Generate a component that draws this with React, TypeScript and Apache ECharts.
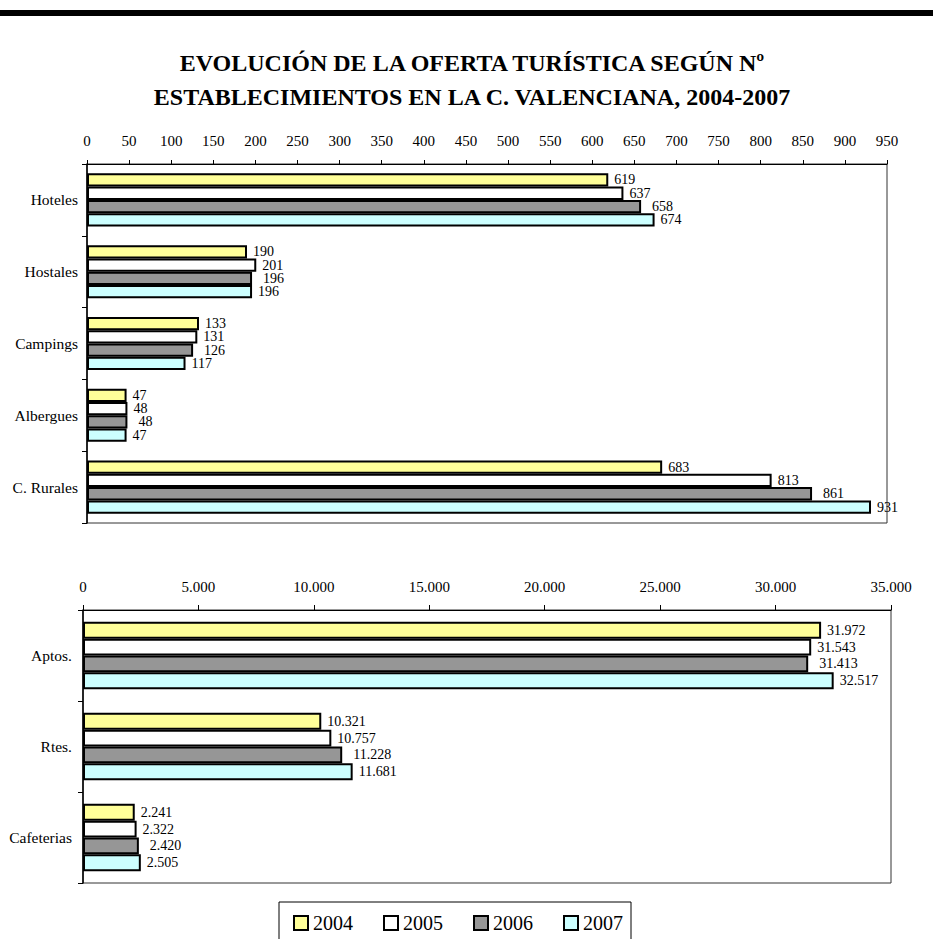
import React, { useEffect, useRef } from "react";
import * as echarts from "echarts";

const titleLines = [
  "EVOLUCIÓN DE LA OFERTA TURÍSTICA SEGÚN Nº",
  "ESTABLECIMIENTOS EN LA C. VALENCIANA, 2004-2007",
];
const years = ["2004", "2005", "2006", "2007"];
const yearColors = ["#FFFF99", "#FFFFFF", "#969696", "#CCFFFF"];

const topCategories = ["Hoteles", "Hostales", "Campings", "Albergues", "C. Rurales"];
const top2004 = [619, 190, 133, 47, 683];
const top2005 = [637, 201, 131, 48, 813];
const top2006 = [658, 196, 126, 48, 861];
const top2007 = [674, 196, 117, 47, 931];

const bottomCategories = ["Aptos.", "Rtes.", "Cafeterias"];
const bottom2004 = [31972, 10321, 2241];
const bottom2005 = [31543, 10757, 2322];
const bottom2006 = [31413, 11228, 2420];
const bottom2007 = [32517, 11681, 2505];

const topSeries = [top2004, top2005, top2006, top2007];
const bottomSeries = [bottom2004, bottom2005, bottom2006, bottom2007];

const FONT = "Liberation Serif";

const fmt = (v: number) =>
  String(Math.round(v)).replace(/\B(?=(\d{3})+(?!\d))/g, ".");

export default function App() {
  const ref = useRef<HTMLDivElement>(null);

  useEffect(() => {
    if (!ref.current) return;
    const chart = echarts.init(ref.current, null, { renderer: "svg" });

    const axisLabel = { color: "#000", fontFamily: FONT, fontSize: 15 };

    const makeSeries = (data: number[][], idx: number) =>
      data.map((vals, i) => ({
        name: years[i],
        type: "bar",
        xAxisIndex: idx,
        yAxisIndex: idx,
        data: vals,
        barGap: "0%",
        barCategoryGap: "26%",
        itemStyle: {
          color: yearColors[i],
          borderColor: "#000",
          borderWidth: 2,
        },
        label: {
          show: true,
          position: "right",
          distance: i === 2 ? 11 : 6,
          color: "#000",
          fontFamily: FONT,
          fontSize: 14,
          formatter: (p: any) => fmt(p.value),
        },
      }));

    const option: any = {
      animation: false,
      backgroundColor: "#fff",
      textStyle: { fontFamily: FONT },
      graphic: [
        {
          type: "rect",
          shape: { x: 0, y: 10, width: 933, height: 6 },
          style: { fill: "#000" },
        },
        {
          type: "text",
          x: 472,
          y: 80,
          style: {
            text: titleLines.join("\n"),
            fill: "#000",
            fontFamily: FONT,
            fontWeight: "bold",
            fontSize: 24,
            lineHeight: 34,
            textAlign: "center",
            textVerticalAlign: "middle",
          },
        },
      ],
      legend: {
        data: years,
        left: 279,
        top: 902,
        orient: "horizontal",
        icon: "rect",
        itemWidth: 14,
        itemHeight: 14,
        itemGap: 30,
        padding: [11, 8, 20, 14],
        borderColor: "#000",
        borderWidth: 1,
        textStyle: { color: "#000", fontFamily: FONT, fontSize: 20 },
      },
      grid: [
        {
          left: 87,
          top: 164,
          width: 800,
          height: 359,
          show: true,
          borderColor: "#333",
          borderWidth: 1,
        },
        {
          left: 83,
          top: 610,
          width: 808,
          height: 273,
          show: true,
          borderColor: "#333",
          borderWidth: 1,
        },
      ],
      xAxis: [
        {
          type: "value",
          gridIndex: 0,
          position: "top",
          min: 0,
          max: 950,
          interval: 50,
          axisLine: { show: true, lineStyle: { color: "#000", width: 1 } },
          axisTick: { show: true, length: 4, lineStyle: { color: "#000" } },
          axisLabel: { ...axisLabel, margin: 16, formatter: (v: number) => fmt(v) },
          splitLine: { show: false },
        },
        {
          type: "value",
          gridIndex: 1,
          position: "top",
          min: 0,
          max: 35000,
          interval: 5000,
          axisLine: { show: true, lineStyle: { color: "#000", width: 1 } },
          axisTick: { show: true, length: 5, lineStyle: { color: "#000" } },
          axisLabel: { ...axisLabel, margin: 16, formatter: (v: number) => fmt(v) },
          splitLine: { show: false },
        },
      ],
      yAxis: [
        {
          type: "category",
          gridIndex: 0,
          data: topCategories,
          inverse: true,
          axisLine: { show: true, lineStyle: { color: "#000", width: 1.5 } },
          axisTick: { show: true, length: 5, lineStyle: { color: "#000" } },
          axisLabel: { ...axisLabel, fontSize: 15.5, margin: 9 },
        },
        {
          type: "category",
          gridIndex: 1,
          data: bottomCategories,
          inverse: true,
          axisLine: { show: true, lineStyle: { color: "#000", width: 1.5 } },
          axisTick: { show: true, length: 5, lineStyle: { color: "#000" } },
          axisLabel: { ...axisLabel, fontSize: 15.5, margin: 11 },
        },
      ],
      series: [...makeSeries(topSeries, 0), ...makeSeries(bottomSeries, 1)],
    };

    chart.setOption(option);
    return () => chart.dispose();
  }, []);

  return (
    <div
      ref={ref}
      style={{
        position: "absolute",
        left: 0,
        top: 0,
        width: 933,
        height: 939,
        background: "#fff",
      }}
    />
  );
}
